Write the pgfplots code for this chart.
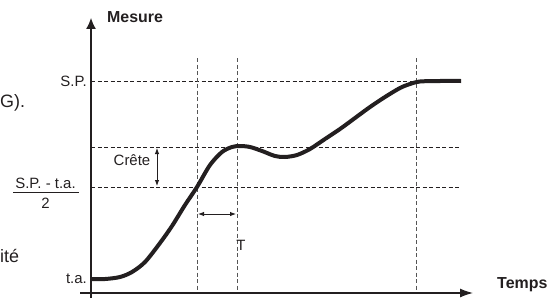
\documentclass[border=0pt]{standalone}
\usepackage{pgfplots}
\pgfplotsset{compat=1.18}
\usepackage{fontspec}
\setmainfont{Liberation Sans}
\usetikzlibrary{arrows.meta}
\definecolor{ink}{HTML}{231F20}
\definecolor{vgray}{HTML}{555555}
\tikzset{lbl/.style={font=\fontsize{15}{18}\selectfont, inner sep=0pt, text=ink},
         blbl/.style={font=\fontsize{16}{19}\selectfont\bfseries, inner sep=0pt, text=ink},
         big/.style={font=\fontsize{18}{21}\selectfont, inner sep=0pt, text=ink}}
\begin{document}
\begin{tikzpicture}
\begin{axis}[
  width=550bp, height=298bp, scale only axis,
  xmin=0, xmax=550, ymin=0, ymax=298, y dir=reverse,
  hide axis, clip=false,
]
% corners for bounding box
\coordinate (SW) at (axis cs:0,298);
\coordinate (NE) at (axis cs:550,0);
% horizontal dashed lines
\addplot[ink, line width=0.8bp, dash pattern=on 4bp off 2.5bp] coordinates {(91,81) (461,81)};
\addplot[ink, line width=0.8bp, dash pattern=on 4bp off 2.5bp] coordinates {(91,147) (461,147)};
\addplot[ink, line width=0.8bp, dash pattern=on 4bp off 2.5bp] coordinates {(91,187) (461,187)};
% vertical dashed lines
\addplot[vgray, line width=0.8bp, dash pattern=on 4bp off 2.5bp] coordinates {(197,58) (197,293)};
\addplot[vgray, line width=0.8bp, dash pattern=on 4bp off 2.5bp] coordinates {(237,58) (237,293)};
\addplot[vgray, line width=0.8bp, dash pattern=on 4bp off 2.5bp] coordinates {(416,58) (416,293)};
% axes
\addplot[ink, line width=1.2bp, -{Latex[length=11bp,width=10bp]}] coordinates {(91,298) (91,18)};
\addplot[ink, line width=1.2bp, -{Latex[length=13bp,width=9bp]}] coordinates {(80,293) (473,293)};
% response curve
\addplot[ink, line width=4bp, smooth, tension=0.5] coordinates {
(91,279) (105,279) (120,277) (132,272) (145,262) (160,243) (172,226) (185,205)
(197,187) (210,165) (222,152) (232,147) (240,146) (250,147) (262,151) (275,156)
(285,157) (297,155) (310,149) (325,139) (340,129) (355,118) (370,107) (385,97)
(400,88) (410,84) (420,81.5) (440,81) (461,81)};
% Crete arrow
\addplot[ink, line width=0.9bp, {Latex[length=6bp,width=4.5bp]}-{Latex[length=6bp,width=4.5bp]}] coordinates {(157,148) (157,186)};
% T arrow
\addplot[ink, line width=0.9bp, {Latex[length=6bp,width=4.5bp]}-{Latex[length=6bp,width=4.5bp]}] coordinates {(198,214) (236,214)};
% labels
\node[blbl, anchor=west] at (axis cs:107,17) {Mesure};
\node[blbl, anchor=west] at (axis cs:497,285) {Temps};
\node[lbl, anchor=east] at (axis cs:87,81) {S.P.};
\node[lbl, anchor=east] at (axis cs:87,279) {t.a.};
\node[lbl] at (axis cs:132,160) {Crête};
\node[lbl] at (axis cs:241,245) {T};
\node[lbl] at (axis cs:45.5,183) {S.P. - t.a.};
\draw[ink, line width=0.8bp] (axis cs:13,192) -- (axis cs:79,192);
\node[lbl] at (axis cs:45.5,203) {2};
\node[big, anchor=west] at (axis cs:0,103) {G).};
\node[big, anchor=west] at (axis cs:0,256) {ité};
\end{axis}
\pgfresetboundingbox
\path (SW) rectangle (NE);
\end{tikzpicture}
\end{document}
